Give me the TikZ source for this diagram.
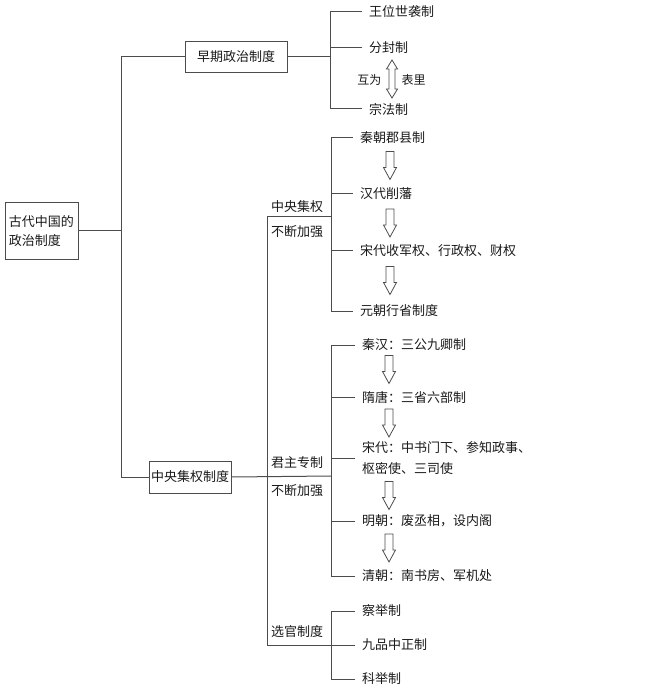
\documentclass[tikz,border=0pt]{standalone}
\usepackage{fontspec}
\setmainfont{Noto Sans CJK SC}

\begin{document}
\begin{tikzpicture}[x=1pt, y=-1pt,
    every node/.style={text=black!90, font=\fontsize{13}{19}\selectfont},
    box/.style={draw=black!70, line width=1pt, inner sep=2pt, align=left},
    item/.style={anchor=west, inner xsep=7pt, inner ysep=0pt, align=left},
    link/.style={draw=black!70, line width=1pt},
    hollow/.style={draw=black!70, line width=0.8pt, line join=miter}]
        \useasboundingbox (0,0) rectangle (650,692);

        % Boxes
        \node[box, minimum width=73pt, minimum height=56pt] (root) at (41.5,231) {古代中国的\\政治制度};
        \node[box, minimum width=102pt, minimum height=31pt] (early) at (236,57) {早期政治制度};
        \node[box, minimum width=82pt, minimum height=32pt] (central) at (190,477) {中央集权制度};

        % Trunk
        \draw[link] (root.east) -- (121,231) coordinate (jroot);
        \draw[link] (jroot) |- (early.west);
        \draw[link] (jroot) |- (central.west);

        % Early system
        \coordinate (jearly) at (330,57);
        \node[item] (wangwei) at (362,12) {王位世袭制};
        \node[item] (fenfeng) at (362,48) {分封制};
        \node[item] (zongfa) at (362,109) {宗法制};
        \draw[link] (early.east) -- (jearly);
        \foreach \n in {wangwei,fenfeng,zongfa}
          \draw[link] (jearly) |- (\n.west);
        % double hollow arrow between the two systems
        \coordinate (mutual) at (392,79);
        \draw[hollow] (mutual) ++(0,-19) -- ++(5.5,9) -- ++(-2.5,0) -- ++(0,20) -- ++(2.5,0)
          -- ++(-5.5,9) -- ++(-5.5,-9) -- ++(2.5,0) -- ++(0,-20) -- ++(-2.5,0) -- cycle;
        \node[font=\fontsize{12}{14}\selectfont, anchor=east] (huwei) at (385,80) {互为};
        \node[font=\fontsize{12}{14}\selectfont, anchor=west] (biaoli) at (398,80) {表里};

        % Central system: junctions
        \coordinate (jcentral) at (267,476);
        \coordinate (jpower) at (331,217);
        \coordinate (jmonarch) at (331,476);
        \coordinate (jselect) at (331,645);
        \draw[link] (central.east) -- (jmonarch);
        \draw[link] (jcentral) |- (jpower);
        \draw[link] (jcentral) |- (jselect);

        % Labels on the branches
        \node (lpowerA) at (297,207) {中央集权};
        \node (lpowerB) at (297,232) {不断加强};
        \node (lmonA) at (297,463) {君主专制};
        \node (lmonB) at (297,491) {不断加强};
        \node (lselect) at (297,632) {选官制度};

        % Centralization
        \node[item] (qinjx) at (353,138) {秦朝郡县制};
        \node[item] (hanxf) at (353,194) {汉代削藩};
        \node[item] (songsq) at (353,251) {宋代收军权、行政权、财权};
        \node[item] (yuanxs) at (353,311) {元朝行省制度};
        \foreach \n in {qinjx,hanxf,songsq,yuanxs}
          \draw[link] (jpower) |- (\n.west);
        \foreach \y in {165.5,223,280.5}
          \draw[hollow] (390,\y) ++(-4,-14) -- ++(8,0) -- ++(0,16) -- ++(2.5,0)
            -- ++(-6.5,12) -- ++(-6.5,-12) -- ++(2.5,0) -- cycle;

        % Autocracy
        \node[item] (qinhan) at (355,345) {秦汉：三公九卿制};
        \node[item] (suitang) at (355,397) {隋唐：三省六部制};
        \node[item, font=\fontsize{13}{21}\selectfont] (song) at (355,458) {宋代：中书门下、参知政事、\\枢密使、三司使};
        \node[item] (ming) at (355,521) {明朝：废丞相，设内阁};
        \node[item] (qing) at (355,576) {清朝：南书房、军机处};
        \foreach \n in {qinhan,suitang,song,ming,qing}
          \draw[link] (jmonarch) |- (\n.west);
        \foreach \y in {369.5,423,495.5,548}
          \draw[hollow] (389,\y) ++(-4,-14) -- ++(8,0) -- ++(0,16) -- ++(2.5,0)
            -- ++(-6.5,12) -- ++(-6.5,-12) -- ++(2.5,0) -- cycle;

        % Official selection
        \node[item] (chaju) at (355,611) {察举制};
        \node[item] (jiupin) at (355,645) {九品中正制};
        \node[item] (keju) at (355,679) {科举制};
        \foreach \n in {chaju,jiupin,keju}
          \draw[link] (jselect) |- (\n.west);
      \end{tikzpicture}
\end{document}
